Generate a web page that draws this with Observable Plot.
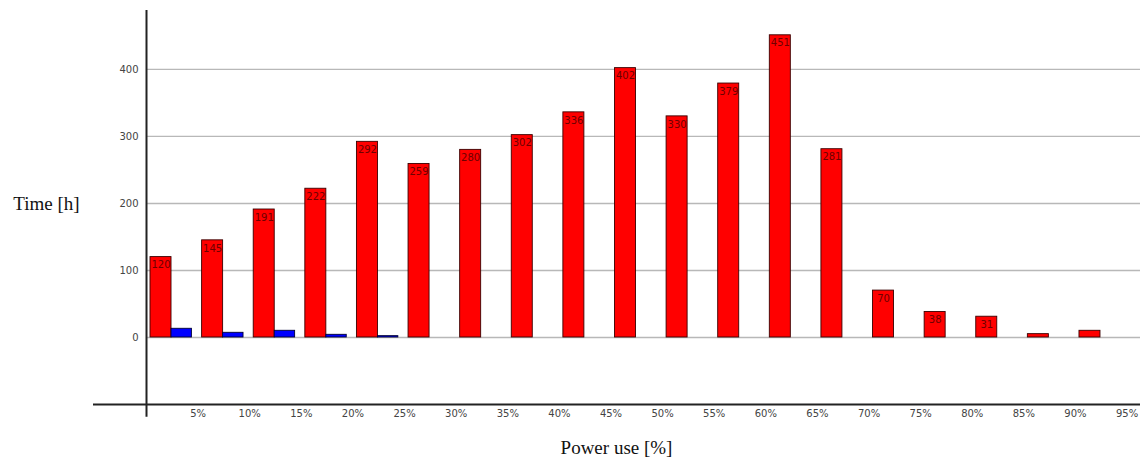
<!DOCTYPE html>
<html><head><meta charset="utf-8">
<script src="https://cdn.jsdelivr.net/npm/d3@7"></script>
<script src="https://cdn.jsdelivr.net/npm/@observablehq/plot@0.6"></script>
<style>body{margin:0;background:#fff}</style>
</head><body><div id="chart"></div>
<script>
const bins = [0,5,10,15,20,25,30,35,40,45,50,55,60,65,70,75,80,85,90];
const redValues = [120,145,191,222,292,259,280,302,336,402,330,379,451,281,70,38,31,5,10];
const blueValues = [13,7,10,4,2];
const xTicks = [5,10,15,20,25,30,35,40,45,50,55,60,65,70,75,80,85,90,95];
const yTicks = [0,100,200,300,400];

const red = bins.map((b,i)=>({bin:b, value:redValues[i]}));
const blue = blueValues.map((v,i)=>({bin:bins[i], value:v}));
const labeled = red.filter(d=>d.value>=20);

const binW = 51.6;
const chart = Plot.plot({
  width:1140, height:461,
  marginLeft:146, marginRight:0, marginTop:10, marginBottom:57,
  style:{fontFamily:"DejaVu Sans", background:"#fff"},
  x:{domain:[0,96.3], axis:null},
  y:{domain:[-100,488], axis:null},
  marks:[
    Plot.ruleY(yTicks,{stroke:"#b8b8b8", strokeWidth:1.3}),
    Plot.rectY(red,{x1:"bin", x2:d=>d.bin+5, y1:0, y2:"value", fill:"#ff0000", stroke:"#3a0000", strokeWidth:0.9, insetLeft:4, insetRight:binW-25}),
    Plot.rectY(blue,{x1:"bin", x2:d=>d.bin+5, y1:0, y2:"value", fill:"#0000ff", stroke:"#000033", strokeWidth:0.9, insetLeft:25, insetRight:binW-45.4}),
    Plot.text(labeled,{x:"bin", y:"value", text:d=>String(d.value), dx:14.5, dy:8, fill:"#6e0000", fontSize:10, textAnchor:"middle"}),
    Plot.ruleY([-100],{stroke:"#222", strokeWidth:2, insetLeft:-53}),
    Plot.ruleX([0],{y1:-119, y2:488, stroke:"#222", strokeWidth:2}),
    Plot.text(yTicks,{x:0, y:d=>d, text:d=>String(d), dx:-8, textAnchor:"end", fill:"#444", fontSize:10}),
    Plot.text(xTicks,{x:d=>d, y:-100, text:d=>d+"%", dy:9, textAnchor:"middle", fill:"#444", fontSize:10}),
    Plot.text(["Time [h]"],{frameAnchor:"left", dx:-100, dy:-4, textAnchor:"middle", fontFamily:"Liberation Serif", fontSize:19, fill:"#111"}),
    Plot.text(["Power use [%]"],{frameAnchor:"bottom", dx:-27, dy:49, textAnchor:"middle", fontFamily:"Liberation Serif", fontSize:19, fill:"#111"})
  ]
});
document.getElementById("chart").append(chart);
</script></body></html>
